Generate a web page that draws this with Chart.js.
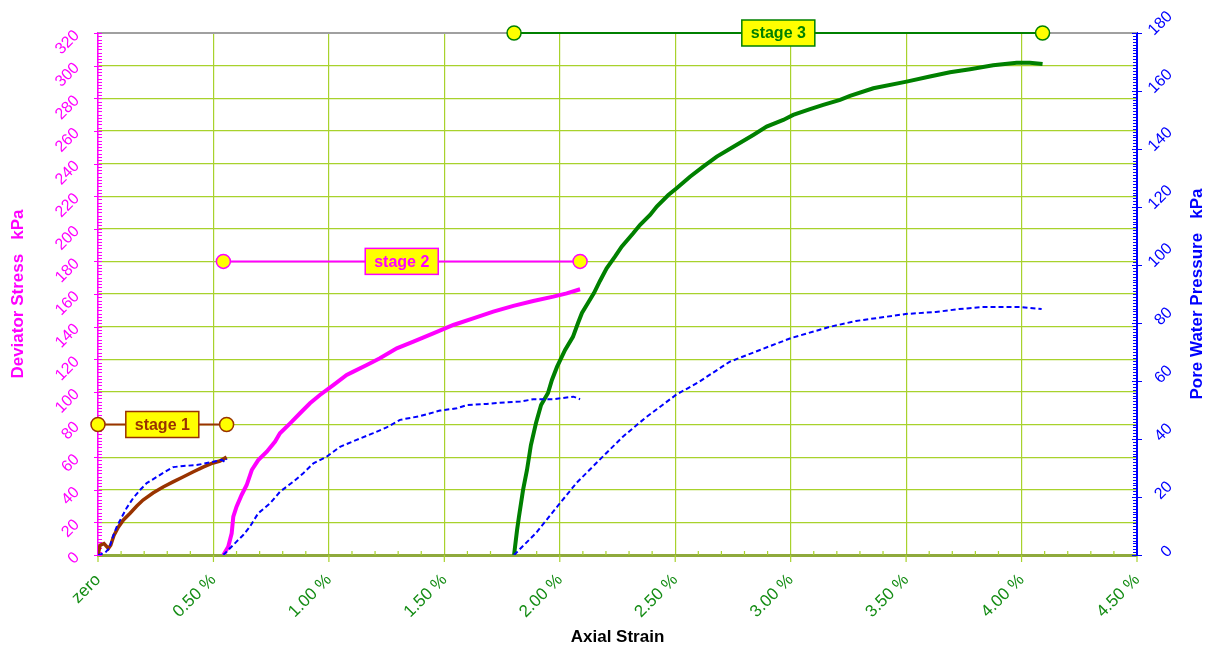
<!DOCTYPE html>
<html>
<head>
<meta charset="utf-8">
<script src="https://cdn.jsdelivr.net/npm/chart.js@4.4.1/dist/chart.umd.min.js"></script>
<style>
  html, body { margin: 0; padding: 0; background: #ffffff; }
  #wrap { width: 1217px; height: 655px; }
</style>
</head>
<body>
<div id="wrap"><canvas id="c" width="1217" height="655"></canvas></div>
<script>
// ---- Axis ticks -------------------------------------------------------
const xTickLabels = ['zero', '0.50 %', '1.00 %', '1.50 %', '2.00 %', '2.50 %', '3.00 %', '3.50 %', '4.00 %', '4.50 %'];
const stressTicks = [0, 20, 40, 60, 80, 100, 120, 140, 160, 180, 200, 220, 240, 260, 280, 300, 320];
const pwpTicks = [0, 20, 40, 60, 80, 100, 120, 140, 160, 180];

// ---- Stage 1 (axial strain %, deviator stress kPa, pore pressure kPa) --
const stage1Strain = [0, 0.009, 0.026, 0.045, 0.055, 0.069, 0.088, 0.110, 0.139, 0.168, 0.195, 0.238, 0.282, 0.325, 0.368, 0.411, 0.455, 0.498, 0.528, 0.557];
const stage1Stress = [0, 6, 7, 4, 6, 12, 17, 21.5, 25.6, 30, 33.7, 38, 41.7, 44.8, 47.8, 50.9, 53.9, 56.4, 57.6, 60];
const stage1PwpStrain = [0, 0.030, 0.049, 0.064, 0.081, 0.103, 0.124, 0.153, 0.182, 0.211, 0.254, 0.297, 0.326, 0.369, 0.427, 0.471, 0.514, 0.536, 0.550, 0.557];
const stage1Pwp = [0, 0.7, 2.4, 6.2, 9.7, 13.1, 16.2, 19.7, 22.4, 24.8, 26.9, 29.0, 30.3, 30.7, 31.0, 31.7, 32.4, 32.8, 32.1, 33.1];

// ---- Stage 2 -----------------------------------------------------------
const stage2Strain = [0.543, 0.564, 0.579, 0.586, 0.600, 0.622, 0.644, 0.666, 0.694, 0.731, 0.767, 0.788, 0.832, 0.875, 0.918, 0.961, 1.019, 1.077, 1.106, 1.164, 1.221, 1.294, 1.366, 1.452, 1.539, 1.625, 1.712, 1.799, 1.885, 1.972, 2.030, 2.088];
const stage2Stress = [0, 5, 13.3, 23.5, 29.6, 36.8, 42.9, 52.1, 58.2, 63.3, 69.5, 74.6, 80.7, 86.9, 93.0, 98.1, 104.2, 110.4, 112.4, 116.5, 120.6, 126.7, 130.8, 135.9, 141.0, 145.1, 149.2, 152.7, 155.7, 158.4, 160.4, 162.9];
const stage2PwpStrain = [0.543, 0.564, 0.600, 0.629, 0.658, 0.694, 0.745, 0.788, 0.846, 0.889, 0.933, 0.990, 1.048, 1.120, 1.192, 1.250, 1.308, 1.395, 1.481, 1.554, 1.597, 1.683, 1.741, 1.828, 1.885, 1.972, 2.059, 2.088];
const stage2Pwp = [0, 1.7, 4.6, 6.9, 9.8, 14.4, 17.8, 21.8, 25.3, 28.2, 31.6, 33.9, 37.3, 39.7, 42.0, 44.0, 46.6, 47.9, 49.8, 50.6, 51.7, 52.1, 52.5, 52.9, 53.7, 53.7, 54.6, 53.7];

// ---- Stage 3 -----------------------------------------------------------
const stage3Strain = [1.802, 1.815, 1.823, 1.841, 1.858, 1.875, 1.897, 1.919, 1.949, 1.966, 1.988, 2.023, 2.057, 2.079, 2.096, 2.122, 2.148, 2.174, 2.203, 2.239, 2.268, 2.318, 2.347, 2.391, 2.420, 2.470, 2.506, 2.564, 2.621, 2.680, 2.752, 2.838, 2.896, 2.968, 3.011, 3.084, 3.141, 3.214, 3.257, 3.358, 3.502, 3.603, 3.690, 3.777, 3.877, 3.979, 4.036, 4.091];
const stage3Stress = [0, 15.3, 23.3, 39.9, 52.1, 67.4, 80.9, 92.0, 99.3, 107.3, 115.3, 125.7, 133.7, 142.2, 148.4, 154.5, 160.6, 168.0, 175.8, 182.9, 189, 197.2, 202.3, 208.5, 213.6, 220.7, 224.8, 231.9, 238.1, 244.2, 250.3, 257.5, 262.6, 266.7, 269.8, 273.3, 275.9, 279, 281.4, 286.1, 290.2, 293.3, 295.9, 297.8, 300.2, 301.8, 301.8, 301];
const stage3PwpStrain = [1.802, 1.897, 1.988, 2.072, 2.172, 2.272, 2.369, 2.503, 2.603, 2.735, 2.867, 3.001, 3.166, 3.283, 3.498, 3.629, 3.729, 3.829, 3.995, 4.087];
const stage3Pwp = [0, 7.6, 16.6, 24.8, 32.8, 40.7, 47.2, 55.2, 59.7, 66.6, 70.7, 74.8, 78.6, 80.7, 83.1, 83.8, 84.8, 85.5, 85.5, 84.8];

// ---- Stage bracket labels and their level on the stress axis --------
const stageNames = ['stage 1', 'stage 2', 'stage 3'];
const stageLevels = [80, 180, 320];

// ---- Styling ------------------------------------------------------------
const FONT = "'Liberation Sans', Arial, sans-serif";
const GRID = '#a8d22c';
const OLIVE = '#8faa3c';
const MAGENTA = '#ff00ff';
const BROWN = '#993300';
const GREEN = '#008000';
const BLUE = '#0000ff';
const TICK_GREEN = '#148c14';
const stageColors = [BROWN, MAGENTA, GREEN];

const pts = (xs, ys) => xs.map((v, i) => ({ x: v, y: ys[i] }));

const stressSets = [[stage1Strain, stage1Stress], [stage2Strain, stage2Stress], [stage3Strain, stage3Stress]];
const pwpSets = [[stage1PwpStrain, stage1Pwp], [stage2PwpStrain, stage2Pwp], [stage3PwpStrain, stage3Pwp]];

const datasets = [];
// stage brackets: a line joining the first and last strain of each stage
stressSets.forEach(([xs], i) => {
  datasets.push({
    label: stageNames[i] + ' bracket',
    data: [{ x: xs[0], y: stageLevels[i] }, { x: xs[xs.length - 1], y: stageLevels[i] }],
    yAxisID: 'yL',
    borderColor: stageColors[i],
    borderWidth: 2,
    pointRadius: 7,
    pointBorderWidth: 1.5,
    pointBackgroundColor: '#ffff00',
    pointBorderColor: stageColors[i],
    clip: false,
    order: 0,
    stageIndex: i
  });
});
pwpSets.forEach(([xs, ys], i) => {
  datasets.push({
    label: stageNames[i] + ' pore pressure',
    data: pts(xs, ys),
    yAxisID: 'yR',
    borderColor: BLUE,
    borderWidth: 2,
    borderDash: [5, 3],
    pointRadius: 0,
    order: 1
  });
});
stressSets.forEach(([xs, ys], i) => {
  datasets.push({
    label: stageNames[i] + ' deviator stress',
    data: pts(xs, ys),
    yAxisID: 'yL',
    borderColor: stageColors[i],
    borderWidth: i === 0 ? 3.5 : 4,
    pointRadius: 0,
    order: 2
  });
});

function line(ctx, x1, y1, x2, y2) {
  ctx.beginPath(); ctx.moveTo(x1, y1); ctx.lineTo(x2, y2); ctx.stroke();
}

const frame = {
  id: 'frame',
  beforeDraw(chart) {
    // right-hand tick labels: keep each label's start on its tick but
    // line up their right ends, so shorter numbers slide to the right
    const s = chart.scales.yR;
    const items = s.getLabelItems(chart.chartArea);
    if (items._aligned) return;
    const ctx = chart.ctx;
    ctx.save();
    const widths = items.map((it) => { ctx.font = it.font.string; return ctx.measureText(String(it.label)).width; });
    ctx.restore();
    const maxW = Math.max(...widths);
    items.forEach((it, i) => { it.options.translation[0] += (maxW - widths[i]) * Math.SQRT1_2; });
    items._aligned = true;
  },
  beforeDatasetsDraw(chart) {
    const { ctx, chartArea: a, scales: { x, yL, yR } } = chart;
    ctx.save();
    // top edge of plot
    ctx.strokeStyle = '#a0a0a0';
    ctx.lineWidth = 2;
    line(ctx, a.left, a.top, a.right, a.top);

    // strain axis: minor ticks inside, major ticks below
    ctx.lineWidth = 1.2;
    ctx.strokeStyle = GRID;
    for (let k = 0; k <= 45; k++) {
      const px = x.getPixelForValue(k / 10);
      if (k % 5 === 0) line(ctx, px, a.bottom, px, a.bottom + 7);
      else line(ctx, px, a.bottom, px, a.bottom - 4);
    }

    // stress axis ticks
    ctx.strokeStyle = MAGENTA;
    ctx.lineWidth = 1;
    for (let v = 0; v <= 320; v += 2) {
      const py = Math.round(yL.getPixelForValue(v)) + 0.5;
      if (v % 20 === 0) line(ctx, a.left - 4, py, a.left + 4, py);
      else line(ctx, a.left, py, a.left + 4, py);
    }

    // pore pressure axis ticks
    ctx.strokeStyle = BLUE;
    for (let v = 0; v <= 180; v += 1) {
      const py = Math.round(yR.getPixelForValue(v)) + 0.5;
      if (v % 20 === 0) line(ctx, a.right - 5, py, a.right + 5, py);
      else line(ctx, a.right - 4, py, a.right, py);
    }
    ctx.restore();
  },
  afterDatasetsDraw(chart) {
    const { ctx } = chart;
    ctx.save();
    chart.data.datasets.forEach((ds, di) => {
      if (ds.stageIndex === undefined) return;
      const meta = chart.getDatasetMeta(di);
      const p0 = meta.data[0], p1 = meta.data[1];
      const cx = (p0.x + p1.x) / 2, cy = p0.y;
      const w = 73, h = 26;
      const col = stageColors[ds.stageIndex];
      ctx.fillStyle = '#ffff00';
      ctx.fillRect(cx - w / 2, cy - h / 2, w, h);
      ctx.strokeStyle = col;
      ctx.lineWidth = 1.5;
      ctx.strokeRect(cx - w / 2, cy - h / 2, w, h);
      ctx.fillStyle = col;
      ctx.font = 'bold 16px ' + FONT;
      ctx.textAlign = 'center';
      ctx.textBaseline = 'middle';
      ctx.fillText(stageNames[ds.stageIndex], cx, cy + 1);
    });
    ctx.restore();
  },
  afterDraw(chart) {
    const { ctx, chartArea: a } = chart;
    const midY = (a.top + a.bottom) / 2;
    ctx.save();
    ctx.font = 'bold 17px ' + FONT;
    ctx.textAlign = 'center';
    ctx.textBaseline = 'middle';
    ctx.fillStyle = '#000000';
    ctx.fillText('Axial Strain', (a.left + a.right) / 2, 637);

    ctx.save();
    ctx.translate(18, midY);
    ctx.rotate(-Math.PI / 2);
    ctx.fillStyle = MAGENTA;
    ctx.fillText('Deviator Stress   kPa', 0, 0);
    ctx.restore();

    ctx.save();
    ctx.translate(1197, midY);
    ctx.rotate(-Math.PI / 2);
    ctx.fillStyle = BLUE;
    ctx.fillText('Pore Water Pressure   kPa', 0, 0);
    ctx.restore();
    ctx.restore();
  }
};

function fixBox(size, dim) {
  return (s) => {
    s[dim] = size;
    s.paddingLeft = 0; s.paddingRight = 0; s.paddingTop = 0; s.paddingBottom = 0;
  };
}

new Chart(document.getElementById('c'), {
  type: 'line',
  data: { datasets },
  options: {
    responsive: false,
    animation: false,
    events: [],
    layout: { padding: { top: 33, left: 0, right: 0, bottom: 0 } },
    plugins: { legend: { display: false }, tooltip: { enabled: false } },
    scales: {
      x: {
        type: 'linear', position: 'bottom', min: 0, max: 4.5,
        afterBuildTicks: (s) => { s.ticks = xTickLabels.map((_, i) => ({ value: i * 0.5 })); },
        ticks: {
          autoSkip: false, minRotation: 45, maxRotation: 45, padding: 15,
          color: TICK_GREEN, font: { family: FONT, size: 17 },
          callback: (v) => xTickLabels[Math.round(v / 0.5)]
        },
        grid: { color: GRID, lineWidth: 1.2, drawTicks: false },
        border: { display: true, color: OLIVE, width: 3 },
        afterFit: fixBox(100, 'height')
      },
      yL: {
        type: 'linear', position: 'left', min: 0, max: 320,
        afterBuildTicks: (s) => { s.ticks = stressTicks.map((v) => ({ value: v })); },
        ticks: {
          autoSkip: false, minRotation: 45, maxRotation: 45, padding: 21,
          color: MAGENTA, font: { family: FONT, size: 16 }
        },
        grid: { color: GRID, lineWidth: 1.2, drawTicks: false },
        border: { display: true, color: MAGENTA, width: 1.5 },
        afterFit: fixBox(98, 'width')
      },
      yR: {
        type: 'linear', position: 'right', min: 0, max: 180,
        afterBuildTicks: (s) => { s.ticks = pwpTicks.map((v) => ({ value: v })); },
        ticks: {
          autoSkip: false, minRotation: 45, maxRotation: 45, padding: 14,
          color: BLUE, font: { family: FONT, size: 16 }
        },
        grid: { drawOnChartArea: false, drawTicks: false },
        border: { display: true, color: BLUE, width: 2 },
        afterFit: fixBox(80, 'width')
      }
    }
  },
  plugins: [frame]
});
</script>
</body>
</html>
